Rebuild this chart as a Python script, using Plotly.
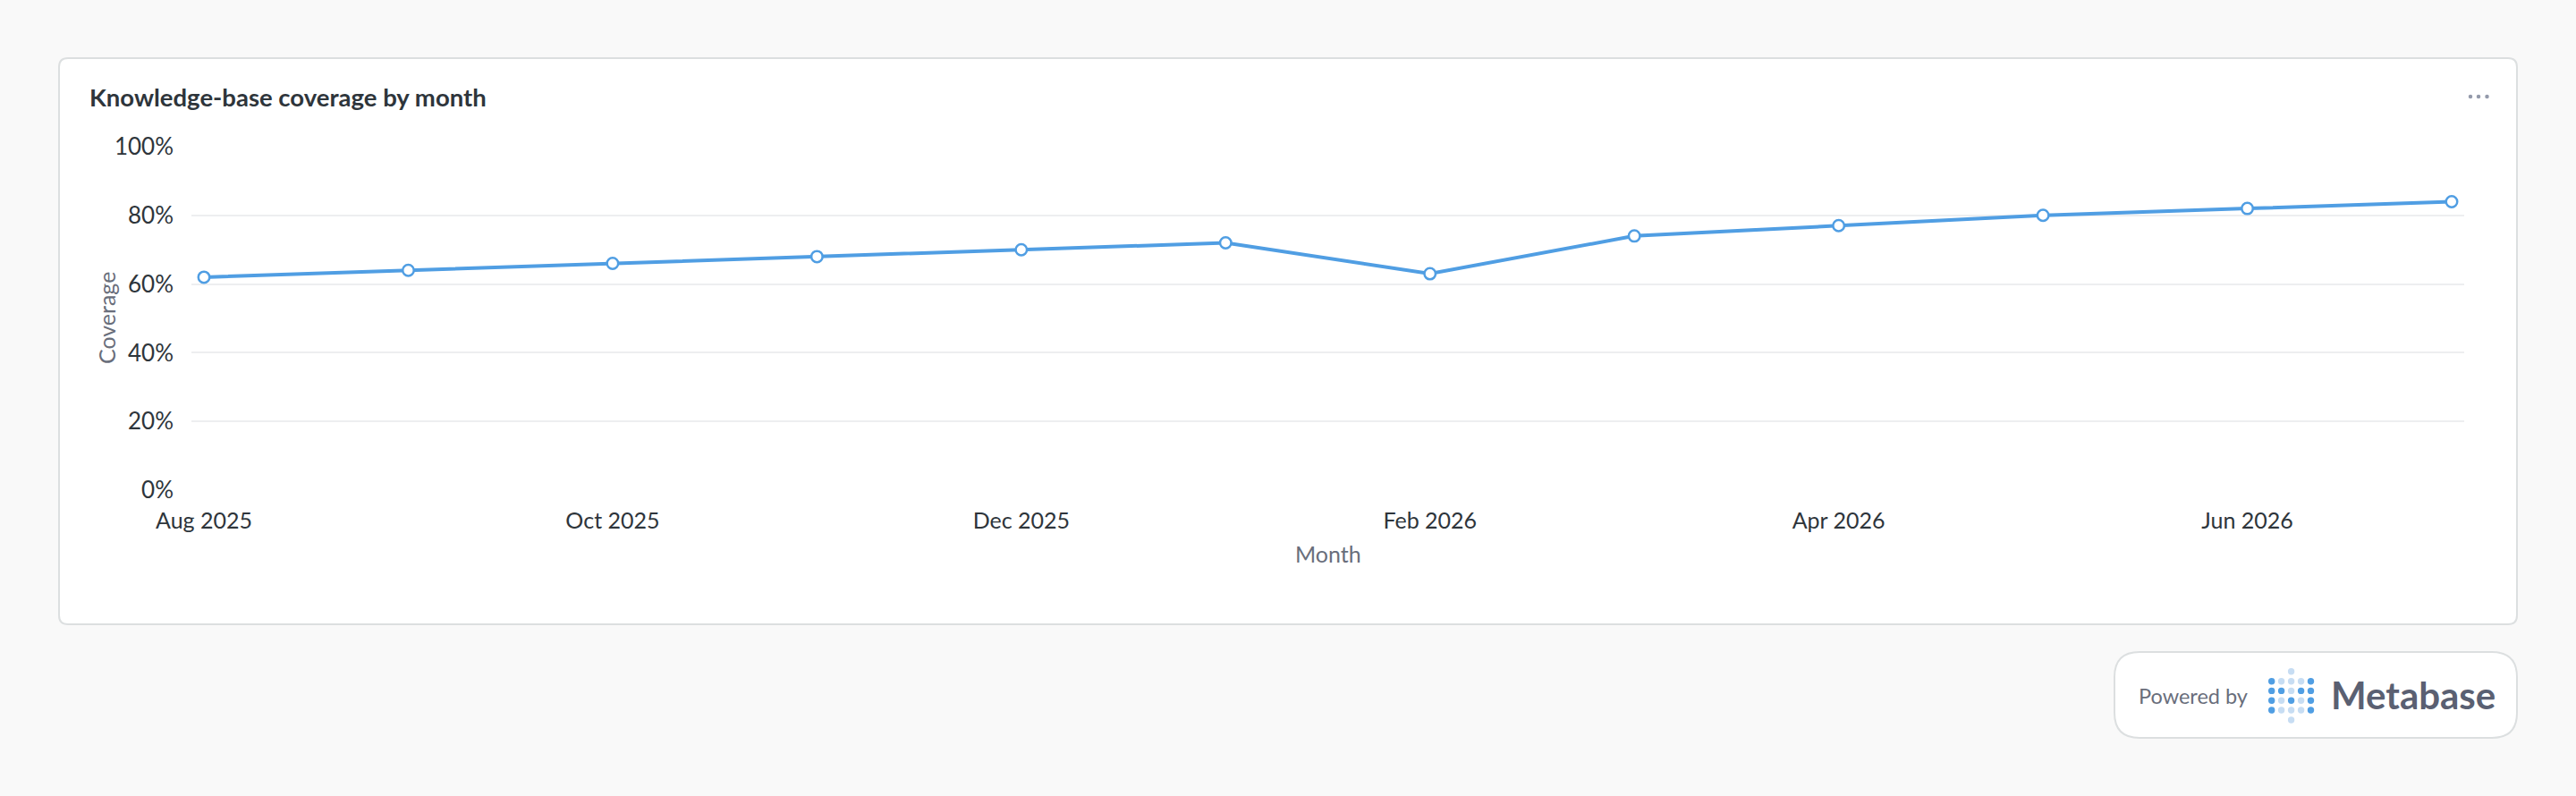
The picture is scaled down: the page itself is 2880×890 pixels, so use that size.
#!/usr/bin/env python3
"""Knowledge-base coverage by month, drawn as a Metabase-style card."""

import plotly.graph_objects as go

# Data
months = ['Aug 2025', 'Sep 2025', 'Oct 2025', 'Nov 2025', 'Dec 2025', 'Jan 2026',
          'Feb 2026', 'Mar 2026', 'Apr 2026', 'May 2026', 'Jun 2026', 'Jul 2026']
coverage = [0.62, 0.64, 0.66, 0.68, 0.70, 0.72, 0.63, 0.74, 0.77, 0.80, 0.82, 0.84]
x_ticks = ['Aug 2025', 'Oct 2025', 'Dec 2025', 'Feb 2026', 'Apr 2026', 'Jun 2026']
y_ticks = [0, 0.2, 0.4, 0.6, 0.8, 1.0]

# Page geometry (pixels)
W, H = 2880, 890
L, R, T, B = 214, 125, 164, 342
PW, PH = W - L - R, H - T - B

BLUE = '#509EE3'
LIGHT_BLUE = '#C7DDF3'
BORDER = '#DCDFE0'
DARK = '#2E353B'
GREY = '#696E7B'
FONT = 'Lato'


def px(x):
    """Pixel x -> paper x"""
    return (x - L) / PW


def py(y):
    """Pixel y (from top) -> paper y"""
    return (H - B - y) / PH


def rounded_rect(x0, y0, x1, y1, r):
    """SVG path for a rounded rectangle given in pixels"""
    pts = []
    pts.append('M %f,%f' % (px(x0 + r), py(y0)))
    pts.append('L %f,%f' % (px(x1 - r), py(y0)))
    pts.append('Q %f,%f %f,%f' % (px(x1), py(y0), px(x1), py(y0 + r)))
    pts.append('L %f,%f' % (px(x1), py(y1 - r)))
    pts.append('Q %f,%f %f,%f' % (px(x1), py(y1), px(x1 - r), py(y1)))
    pts.append('L %f,%f' % (px(x0 + r), py(y1)))
    pts.append('Q %f,%f %f,%f' % (px(x0), py(y1), px(x0), py(y1 - r)))
    pts.append('L %f,%f' % (px(x0), py(y0 + r)))
    pts.append('Q %f,%f %f,%f' % (px(x0), py(y0), px(x0 + r), py(y0)))
    return ' '.join(pts) + ' Z'


def dot(cx, cy, d, color):
    return dict(type='circle', xref='paper', yref='paper', layer='above',
                x0=px(cx - d / 2), x1=px(cx + d / 2),
                y0=py(cy + d / 2), y1=py(cy - d / 2),
                fillcolor=color, line=dict(width=0))


shapes = [
    # Card
    dict(type='path', xref='paper', yref='paper', layer='below',
         path=rounded_rect(66, 65, 2814, 698, 10),
         fillcolor='white', line=dict(color=BORDER, width=2)),
    # Powered by badge
    dict(type='path', xref='paper', yref='paper', layer='below',
         path=rounded_rect(2364, 729, 2814, 825, 28),
         fillcolor='white', line=dict(color=BORDER, width=2)),
]

# "..." menu icon
for cx in [2762, 2771, 2780.5]:
    shapes.append(dot(cx, 108, 4.5, '#949AAB'))

# Metabase logo dots (5 x 4 grid plus a dot above and below the middle)
logo_cols = [2539.7, 2550.6, 2561.6, 2572.6, 2583.5]
logo_rows = [761.7, 772.4, 783.3, 794.0]
logo_pattern = ['DLLLD', 'DDLDD', 'DLDLD', 'DLLLD']
for row, pattern in zip(logo_rows, logo_pattern):
    for col, c in zip(logo_cols, pattern):
        shapes.append(dot(col, row, 7.4, BLUE if c == 'D' else LIGHT_BLUE))
shapes.append(dot(logo_cols[2], 750.8, 7.4, LIGHT_BLUE))
shapes.append(dot(logo_cols[2], 805.0, 7.4, LIGHT_BLUE))

annotations = [
    dict(text='<b>Knowledge-base coverage by month</b>', x=px(98), y=py(108),
         xanchor='left', yanchor='middle', font=dict(size=27.5, color=DARK)),
    dict(text='Coverage', x=px(119), y=0.5, textangle=-90,
         xanchor='center', yanchor='middle', font=dict(size=25, color=GREY)),
    dict(text='Month', x=0.5, y=py(619),
         xanchor='center', yanchor='middle', font=dict(size=25, color=GREY)),
    dict(text='Powered by', x=px(2389), y=py(778),
         xanchor='left', yanchor='middle', font=dict(size=23.5, color=GREY)),
    dict(text='<b>Metabase</b>', x=px(2604), y=py(777),
         xanchor='left', yanchor='middle', font=dict(size=42, color='#5A6072')),
]
for a in annotations:
    a.update(xref='paper', yref='paper', showarrow=False)

fig = go.Figure()
fig.add_trace(go.Scatter(
    x=months,
    y=coverage,
    mode='lines+markers',
    line=dict(color=BLUE, width=4),
    marker=dict(size=12.5, color='white', line=dict(color=BLUE, width=2.5)),
    hovertemplate='%{x}: %{y:.0%}<extra></extra>',
    showlegend=False,
))

pad = 14 / 228.3
fig.update_layout(
    width=W,
    height=H,
    margin=dict(l=L, r=R, t=T, b=B, pad=0),
    paper_bgcolor='#F9F9F9',
    plot_bgcolor='rgba(0,0,0,0)',
    font=dict(family=FONT, color=DARK),
    shapes=shapes,
    annotations=annotations,
    xaxis=dict(
        type='category',
        categoryorder='array',
        categoryarray=months,
        range=[-pad, len(months) - 1 + pad],
        tickvals=x_ticks,
        ticktext=x_ticks,
        showgrid=False,
        zeroline=False,
        showline=False,
        ticks='',
        ticklabelstandoff=17,
        tickfont=dict(size=25, color=DARK),
    ),
    yaxis=dict(
        range=[0, 1],
        tickvals=y_ticks,
        tickformat='.0%',
        showgrid=True,
        gridcolor='#EDEEF0',
        gridwidth=2,
        zeroline=False,
        showline=False,
        ticks='',
        ticklabelstandoff=19,
        tickfont=dict(size=26, color=DARK),
    ),
)

# The page body has a default margin; drop it so the figure fills the window
fig.write_html('out.html',
               config={'displayModeBar': False},
               post_script="document.body.style.margin='0';"
                           "document.body.style.overflow='hidden';")
